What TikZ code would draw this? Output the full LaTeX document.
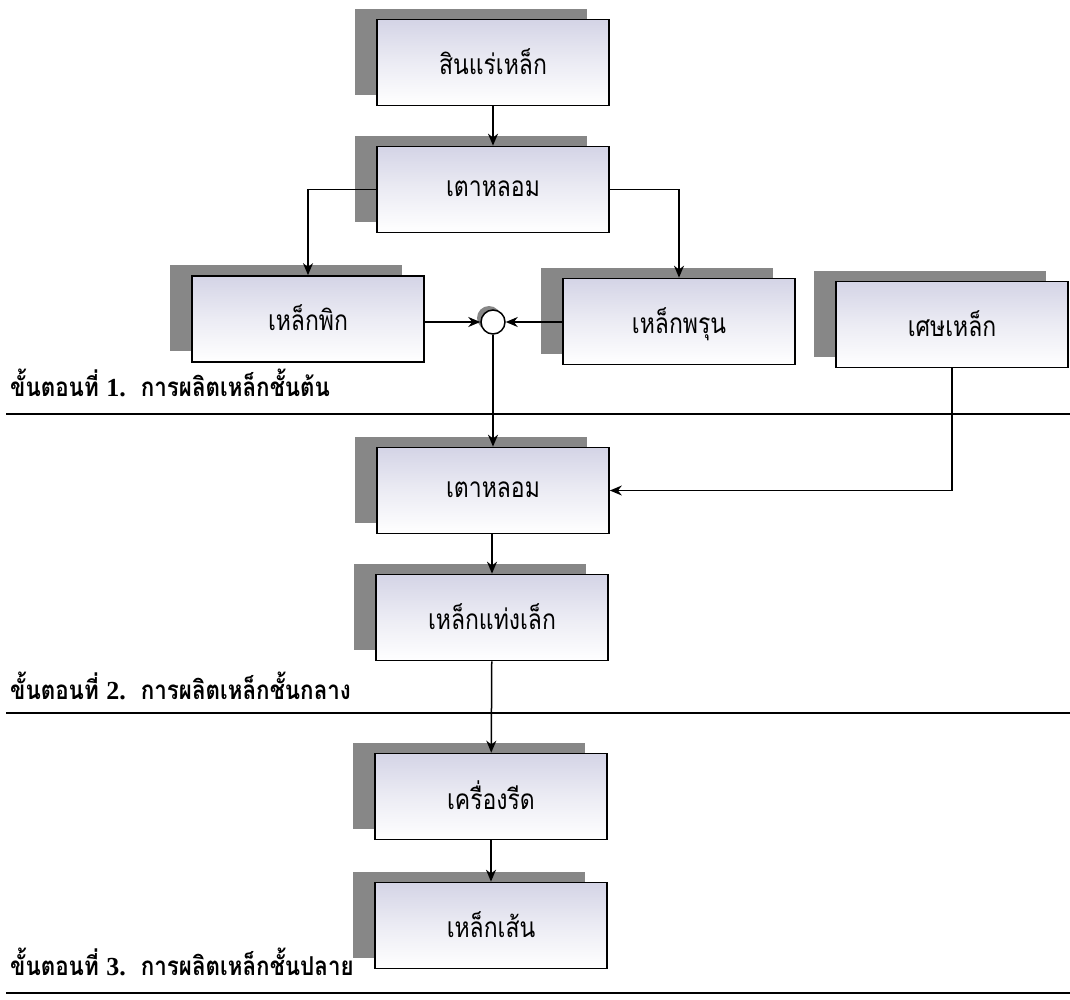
\documentclass[tikz,border=0pt]{standalone}
\usepackage{fontspec}
\setmainfont{Liberation Serif}
\newfontfamily\thai[Script=Thai,FakeStretch=0.82]{Loma}
\newfontfamily\thaihead[Script=Thai,FakeStretch=0.86]{Loma}
\usetikzlibrary{shadows,arrows.meta,calc}
\definecolor{boxtop}{HTML}{D4D4E6}
\definecolor{shade}{HTML}{878787}
\begin{document}
\begin{tikzpicture}[x=1pt,y=-1pt,
  stage/.style={draw=black, line width=1.7pt, minimum width=232pt, minimum height=86pt,
    inner sep=0pt, top color=boxtop, bottom color=white, middle color=boxtop!45!white,
    general shadow={fill=shade, shadow xshift=-22pt, shadow yshift=11pt},
    font=\thai\fontsize{28}{32}\selectfont, text depth=2pt},
  flow/.style={line width=1.5pt, -{Stealth[length=12pt,width=10pt]}},
  steplabel/.style={anchor=base west, inner sep=0pt,
    font=\thaihead\bfseries\fontsize{26}{30}\selectfont},
  rule/.style={line width=1.7pt}]
\useasboundingbox (0,0) rectangle (1070,999);

% process boxes
\node[stage] (ore)    at (493,62.5)  {สินแร่เหล็ก};
\node[stage] (furnA)  at (493,189.5) {เตาหลอม};
\node[stage] (pig)    at (308,319)   {เหล็กพิก};
\node[stage] (spongy) at (679,321.5) {เหล็กพรุน};
\node[stage] (scrap)  at (952,324.5) {เศษเหล็ก};
\node[circle, draw, line width=1.5pt, minimum size=24pt, inner sep=0pt, fill=white,
      general shadow={fill=shade, shadow xshift=-4pt, shadow yshift=4pt}] (join) at (493,322) {};
\node[stage] (furnB)  at (493,490.5) {เตาหลอม};
\node[stage] (billet) at (492,617.5) {เหล็กแท่งเล็ก};
\node[stage] (roller) at (491,796.5) {เครื่องรีด};
\node[stage] (rod)    at (491,925.5) {เหล็กเส้น};

% flow connectors
\draw[flow] (ore) -- (furnA);
\draw[flow] (furnA.west) -| (pig.north);
\draw[flow] (furnA.east) -| (spongy.north);
\draw[flow] (join.west -| pig.east) -- (join.west);
\draw[flow] (join.east -| spongy.west) -- (join.east);
\draw[flow] (join.south) -- (join.south |- furnB.north);
\draw[flow] (scrap.south) |- (furnB.east);
\draw[flow] (furnB.south -| billet.north) -- (billet.north);
\draw[flow] (billet) -- (roller);
\draw[flow] (roller) -- (rod);

% stage captions and separators
\node[steplabel] (s1) at (10,396) {ขั้นตอนที่ {\rmfamily 1.}\ \ การผลิตเหล็กชั้นต้น};
\node[steplabel] (s2) at (10,699) {ขั้นตอนที่ {\rmfamily 2.}\ \ การผลิตเหล็กชั้นกลาง};
\node[steplabel] (s3) at (10,975) {ขั้นตอนที่ {\rmfamily 3.}\ \ การผลิตเหล็กชั้นปลาย};
\coordinate (r1a) at (6,414);  \coordinate (r1b) at (1070,414);
\coordinate (r2a) at (6,713);  \coordinate (r2b) at (1070,713);
\coordinate (r3a) at (6,993);  \coordinate (r3b) at (1070,993);
\draw[rule] (r1a) -- (r1b);
\draw[rule] (r2a) -- (r2b);
\draw[rule] (r3a) -- (r3b);
\end{tikzpicture}
\end{document}
